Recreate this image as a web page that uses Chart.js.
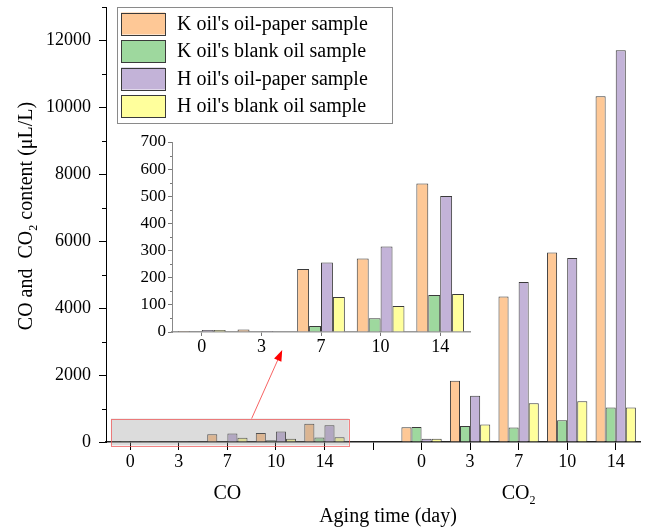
<!DOCTYPE html>
<html>
<head>
<meta charset="utf-8">
<script src="https://cdn.jsdelivr.net/npm/chart.js@4.4.1/dist/chart.umd.min.js"></script>
<style>
  html, body { margin: 0; padding: 0; background: #fff; }
  #wrap { position: relative; width: 648px; height: 529px; overflow: hidden; }
  #main { position: absolute; left: 0; top: 0; }
  #inset { position: absolute; left: 130px; top: 128px; }
</style>
</head>
<body>
<div id="wrap">
  <canvas id="main" width="648" height="529"></canvas>
  <canvas id="inset" width="345" height="232"></canvas>
</div>
<script>
// Aging days (tick labels) for each gas group
const days = ['0', '3', '7', '10', '14'];

// Sample series names
const seriesNames = [
  "K oil's oil-paper sample",
  "K oil's blank oil sample",
  "H oil's oil-paper sample",
  "H oil's blank oil sample"
];

// CO content (μL/L)
const coKPaper = [4, 9, 232, 271, 547];
const coKBlank = [1, 0, 22, 51, 136];
const coHPaper = [7, 4, 256, 315, 501];
const coHBlank = [7, 0, 129, 96, 140];

// CO2 content (μL/L)
const co2KPaper = [440, 1830, 4350, 5660, 10330];
const co2KBlank = [450, 480, 430, 650, 1030];
const co2HPaper = [100, 1380, 4780, 5500, 11710];
const co2HBlank = [100, 520, 1160, 1220, 1030];

// Main y-axis tick values
const mainYTicks = [0, 2000, 4000, 6000, 8000, 10000, 12000];

const fills = ['#FEC896', '#9ED89E', '#C3B3D8', '#FFFF9C'];
const FONT = '"Liberation Serif", "Times New Roman", serif';
Chart.defaults.font.family = FONT;
Chart.defaults.color = '#000';

const coSeries = [coKPaper, coKBlank, coHPaper, coHBlank];
const co2Series = [co2KPaper, co2KBlank, co2HPaper, co2HBlank];

// Main chart: CO group, an empty slot, then CO2 group
const mainLabels = [...days, '', ...days];
const mainDatasets = seriesNames.map((name, i) => ({
  label: name,
  data: [...coSeries[i], null, ...co2Series[i]],
  backgroundColor: fills[i],
  borderColor: '#3a3a3a',
  borderWidth: 1,
  borderSkipped: 'bottom',
  categoryPercentage: 0.83,
  barPercentage: 1.0
}));

// Draw text with "2" subscripts; parts = [[text, isSub], ...]
function richText(ctx, parts, x, y, size) {
  const subSize = Math.round(size * 0.62);
  let total = 0;
  parts.forEach(([t, sub]) => {
    ctx.font = (sub ? subSize : size) + 'px ' + FONT;
    total += ctx.measureText(t).width;
  });
  let cx = x - total / 2;
  ctx.textAlign = 'left';
  ctx.textBaseline = 'alphabetic';
  parts.forEach(([t, sub]) => {
    ctx.font = (sub ? subSize : size) + 'px ' + FONT;
    ctx.fillText(t, cx, y + (sub ? size * 0.25 : 0));
    cx += ctx.measureText(t).width;
  });
}

const mainDecor = {
  id: 'mainDecor',
  afterDatasetsDraw(chart) {
    const ctx = chart.ctx;
    const xs = chart.scales.x, ys = chart.scales.y;
    ctx.save();
    // minor ticks on the y axis
    ctx.strokeStyle = '#000';
    ctx.lineWidth = 1;
    for (let v = 1000; v <= 13000; v += 2000) {
      const py = Math.round(ys.getPixelForValue(v)) + 0.5;
      ctx.beginPath();
      ctx.moveTo(xs.left - 4, py);
      ctx.lineTo(xs.left, py);
      ctx.stroke();
    }
    // highlight box around the CO group
    const bx0 = xs.getPixelForValue(-0.4), bx1 = xs.getPixelForValue(4.5);
    const by0 = ys.getPixelForValue(700), by1 = ys.getPixelForValue(-100);
    ctx.fillStyle = 'rgba(140,140,140,0.3)';
    ctx.fillRect(bx0, by0, bx1 - bx0, by1 - by0);
    ctx.strokeStyle = 'rgba(240,90,90,0.75)';
    ctx.lineWidth = 1;
    ctx.strokeRect(Math.round(bx0) + 0.5, Math.round(by0) + 0.5, Math.round(bx1 - bx0), Math.round(by1 - by0));
    // arrow toward the enlarged view
    const ax0 = xs.getPixelForValue(2.5), ay0 = by0;
    const ax1 = xs.getPixelForValue(3.13), ay1 = ys.getPixelForValue(2750);
    const ang = Math.atan2(ay1 - ay0, ax1 - ax0);
    const hl = 11, hw = 4;
    ctx.strokeStyle = 'rgba(245,60,60,0.8)';
    ctx.beginPath();
    ctx.moveTo(ax0, ay0);
    ctx.lineTo(ax1 - hl * Math.cos(ang), ay1 - hl * Math.sin(ang));
    ctx.stroke();
    ctx.fillStyle = '#f00';
    ctx.beginPath();
    ctx.moveTo(ax1, ay1);
    ctx.lineTo(ax1 - hl * Math.cos(ang) + hw * Math.sin(ang), ay1 - hl * Math.sin(ang) - hw * Math.cos(ang));
    ctx.lineTo(ax1 - hl * Math.cos(ang) - hw * Math.sin(ang), ay1 - hl * Math.sin(ang) + hw * Math.cos(ang));
    ctx.closePath();
    ctx.fill();
    ctx.restore();
  },
  afterDraw(chart) {
    const ctx = chart.ctx;
    const xs = chart.scales.x;
    ctx.save();
    ctx.fillStyle = '#000';
    // group labels
    richText(ctx, [['CO', false]], xs.getPixelForValue(2), 499, 20);
    richText(ctx, [['CO', false], ['2', true]], xs.getPixelForValue(8), 499, 20);
    // x-axis title
    richText(ctx, [['Aging time (day)', false]], 388, 522, 20);
    // y-axis title
    ctx.translate(32, 216);
    ctx.rotate(-Math.PI / 2);
    richText(ctx, [['CO and  CO', false], ['2', true], [' content (\u03bcL/L)', false]], 0, 0, 20);
    ctx.restore();

    // legend
    ctx.save();
    const lx = 117, ly = 7, lw = 275, lh = 116;
    ctx.fillStyle = '#fff';
    ctx.fillRect(lx, ly, lw, lh);
    ctx.strokeStyle = '#8a8a8a';
    ctx.lineWidth = 1;
    ctx.strokeRect(lx + 0.5, ly + 0.5, lw, lh);
    chart.data.datasets.forEach((ds, i) => {
      const top = 12.5 + i * 27.5;
      ctx.fillStyle = ds.backgroundColor;
      ctx.fillRect(121, top, 44, 22);
      ctx.strokeStyle = '#3a3a3a';
      ctx.strokeRect(121.5, Math.round(top) + 0.5, 44, 22);
      ctx.fillStyle = '#000';
      ctx.font = '20px ' + FONT;
      ctx.textAlign = 'left';
      ctx.textBaseline = 'middle';
      ctx.fillText(ds.label, 177, top + 12);
    });
    ctx.restore();
  }
};

new Chart(document.getElementById('main'), {
  type: 'bar',
  data: { labels: mainLabels, datasets: mainDatasets },
  options: {
    responsive: false,
    animation: false,
    devicePixelRatio: 1,
    layout: { padding: { top: 7, right: 8, left: 0, bottom: 0 } },
    plugins: { legend: { display: false }, tooltip: { enabled: false } },
    scales: {
      x: {
        grid: { drawOnChartArea: false, offset: false, tickLength: 8, color: '#000', lineWidth: 1 },
        border: { color: '#222', width: 1.5 },
        ticks: { font: { size: 18 }, color: '#000', padding: 1, maxRotation: 0, autoSkip: false },
        afterFit(s) { s.height = 87; s.paddingLeft = 0; s.paddingRight = 0; }
      },
      y: {
        min: 0, max: 13000,
        afterBuildTicks(s) { s.ticks = mainYTicks.map(v => ({ value: v })); },
        grid: { drawOnChartArea: false, tickLength: 7, color: '#000', lineWidth: 1 },
        border: { color: '#000', width: 1 },
        ticks: { font: { size: 18 }, color: '#000', padding: 8, callback: v => String(v) },
        afterFit(s) { s.width = 106; s.paddingTop = 0; s.paddingBottom = 0; }
      }
    }
  },
  plugins: [mainDecor]
});

// Enlarged view of the CO group
const insetDecor = {
  id: 'insetDecor',
  afterDraw(chart) {
    const ctx = chart.ctx;
    const xs = chart.scales.x, ys = chart.scales.y;
    ctx.save();
    ctx.strokeStyle = '#777';
    ctx.lineWidth = 1;
    for (let v = 50; v < 700; v += 100) {
      const py = Math.round(ys.getPixelForValue(v)) + 0.5;
      ctx.beginPath();
      ctx.moveTo(xs.left - 2, py);
      ctx.lineTo(xs.left, py);
      ctx.stroke();
    }
    ctx.restore();
  }
};

new Chart(document.getElementById('inset'), {
  type: 'bar',
  data: {
    labels: days,
    datasets: seriesNames.map((name, i) => ({
      label: name,
      data: coSeries[i],
      backgroundColor: fills[i],
      borderColor: '#3a3a3a',
      borderWidth: 1,
      borderSkipped: 'bottom',
      categoryPercentage: 0.8,
      barPercentage: 1.0
    }))
  },
  options: {
    responsive: false,
    animation: false,
    devicePixelRatio: 1,
    layout: { padding: { top: 14, right: 5, left: 0, bottom: 0 } },
    plugins: { legend: { display: false }, tooltip: { enabled: false } },
    scales: {
      x: {
        grid: { drawOnChartArea: false, offset: false, tickLength: 4, color: '#777' },
        border: { color: '#999', width: 1.5 },
        ticks: { font: { size: 18 }, color: '#000', padding: 0, maxRotation: 0, autoSkip: false },
        afterFit(s) { s.height = 28; s.paddingLeft = 0; s.paddingRight = 0; }
      },
      y: {
        min: 0, max: 700,
        ticks: { stepSize: 100, font: { size: 17 }, color: '#000', padding: 2 },
        grid: { drawOnChartArea: false, tickLength: 4, color: '#777' },
        border: { color: '#888', width: 1 },
        afterFit(s) { s.width = 42; s.paddingTop = 0; s.paddingBottom = 0; }
      }
    }
  },
  plugins: [insetDecor]
});
</script>
</body>
</html>
